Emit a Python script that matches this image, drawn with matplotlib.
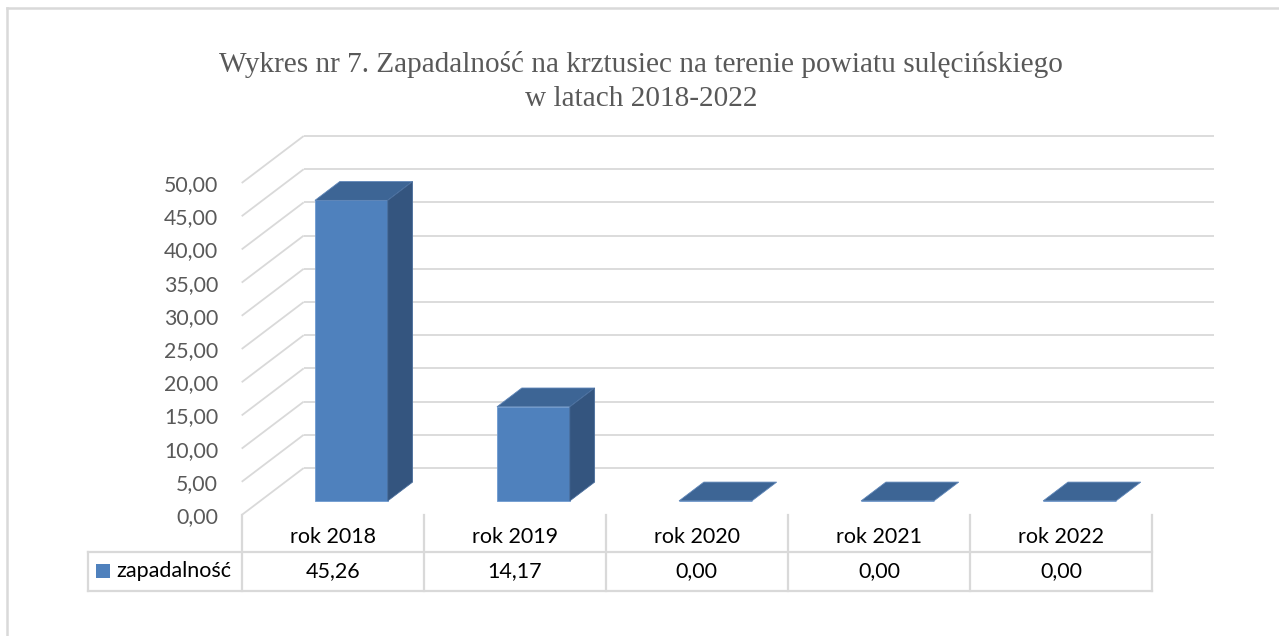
import matplotlib
matplotlib.use('Agg')
import matplotlib.pyplot as plt
from matplotlib.patches import Polygon, Rectangle
from matplotlib.lines import Line2D
import numpy as np

# ---------------- data ----------------
categories = ['rok 2018', 'rok 2019', 'rok 2020', 'rok 2021', 'rok 2022']
values = [45.26, 14.17, 0.00, 0.00, 0.00]
series_name = 'zapadalność'
yticks = [0, 5, 10, 15, 20, 25, 30, 35, 40, 45, 50]
title_lines = ['Wykres nr 7. Zapadalność na krztusiec na terenie powiatu sulęcińskiego',
               'w latach 2018-2022']

# ---------------- style ----------------
FRONT = '#4F81BD'
TOP = '#3D6595'
SIDE = '#34557F'
GRID = '#D9D9D9'
TXT_GRAY = '#595959'
SANS = ['Lato', 'DejaVu Sans']

W, H = 1279, 636
fig = plt.figure(figsize=(W / 100, H / 100), dpi=100)
fig.patch.set_facecolor('white')


def fx(px):
    return px / W


def fy(py):
    return 1 - py / H


n = len(categories)
X0, XR = 241.7, 1152.0          # front-plane extent (px)
PXX = (XR - X0) / n             # px per category
Y0, PXY = 515.0, 6.64           # front-plane zero (px) and px per unit
DXP, DYP = 62.0, 47.0           # depth offset (px)
Dx, Dy = DXP / PXX, DYP / PXY   # depth offset in data units
ymax = yticks[-1] + Dy

ax = fig.add_axes([fx(X0), fy(Y0), (XR + DXP - X0) / W, (ymax * PXY) / H])
ax.set_xlim(-0.5, n - 0.5 + Dx)
ax.set_ylim(0, ymax)
for s in ax.spines.values():
    s.set_visible(False)
ax.set_xticks([])
ax.set_yticks(yticks, labels=[f'{v:.2f}'.replace('.', ',') for v in yticks])
ax.tick_params(axis='y', length=0, pad=17, labelsize=15.3, labelcolor=TXT_GRAY)
for lab in ax.get_yticklabels():
    lab.set_fontfamily(SANS)
ax.patch.set_alpha(0)

# walls / gridlines
for v in yticks:
    ax.plot([-0.5 + Dx, n - 0.5 + Dx], [v + Dy, v + Dy], color=GRID, lw=1.3,
            zorder=1, clip_on=False, solid_capstyle='butt')
    ax.plot([-0.5, -0.5 + Dx], [v, v + Dy], color=GRID, lw=1.3, zorder=1,
            clip_on=False, solid_capstyle='butt')

# bars (pseudo 3D)
f0, f1 = 0.3, 0.7
bw = 0.4
xs = np.arange(n)
ddx, ddy = (f1 - f0) * Dx, (f1 - f0) * Dy
ax.bar(xs + f0 * Dx, values, width=bw, bottom=f0 * Dy, color=FRONT,
       edgecolor='#6F9AD0', linewidth=0.6, zorder=3)
for i, v in enumerate(values):
    xl = i - bw / 2 + f0 * Dx
    xr = xl + bw
    yb = f0 * Dy
    yt = v + f0 * Dy
    top = Polygon([(xl, yt), (xr, yt), (xr + ddx, yt + ddy), (xl + ddx, yt + ddy)],
                  closed=True, facecolor=TOP, edgecolor='#5F86B8', lw=0.6, zorder=4)
    ax.add_patch(top)
    if v > 0:
        side = Polygon([(xr, yb), (xr + ddx, yb + ddy), (xr + ddx, yt + ddy), (xr, yt)],
                       closed=True, facecolor=SIDE, edgecolor='#4A6E9C', lw=0.6, zorder=4)
        ax.add_patch(side)

# ---------------- data table ----------------
TL, TT, TM, TB = 88.0, 515.0, 552.0, 591.0
tax = fig.add_axes([fx(TL), fy(TB), (XR + DXP - TL) / W, (TB - TT) / H])
xleft = -0.5 - (X0 - TL) / PXX
tax.set_xlim(xleft, n - 0.5 + Dx)
tax.set_ylim(TB - TT, 0)
tax.axis('off')
lw_t = 1.6
for k in range(n + 1):
    tax.plot([-0.5 + k, -0.5 + k], [0, TB - TT], color=GRID, lw=lw_t, clip_on=False)
tax.plot([xleft, xleft], [TM - TT, TB - TT], color=GRID, lw=lw_t, clip_on=False)
for yy in (TM - TT, TB - TT):
    tax.plot([xleft, n - 0.5], [yy, yy], color=GRID, lw=lw_t, clip_on=False,
             solid_capstyle='projecting')
for i, c in enumerate(categories):
    tax.text(i, 537 - TT, c, ha='center', va='center', fontsize=15.5,
             family=SANS, color='black')
    tax.text(i, 571 - TT, f'{values[i]:.2f}'.replace('.', ','), ha='center',
             va='center', fontsize=15.5, family=SANS, color='black')
# legend key
kx0 = xleft + (96 - TL) / PXX
kw = 14 / PXX
tax.add_patch(Rectangle((kx0, 564 - TT), kw, 14, facecolor=FRONT, edgecolor='none',
                        clip_on=False))
tax.text(xleft + (116 - TL) / PXX, 571 - TT, series_name, ha='left', va='center',
         fontsize=15.5, family=SANS, color='black')

# ---------------- frame ----------------
fig.add_artist(Line2D([fx(7), fx(7)], [fy(8), 0], color=GRID, lw=1.8))
fig.add_artist(Line2D([fx(7), 1], [fy(8), fy(8)], color=GRID, lw=1.8))

# ---------------- title ----------------
t1 = fig.text(fx(641), fy(72), title_lines[0], ha='center', va='baseline',
              family=['Liberation Serif', 'DejaVu Serif'], fontsize=20, color=TXT_GRAY)
t2 = fig.text(fx(641), fy(106), title_lines[1], ha='center', va='baseline',
              family=['Liberation Serif', 'DejaVu Serif'], fontsize=20, color=TXT_GRAY)
r = fig.canvas.get_renderer()
wid = t1.get_window_extent(r).width
fs = 20 * 845 / wid
t1.set_fontsize(fs)
t2.set_fontsize(fs)

fig.savefig('out.png', dpi=100)
